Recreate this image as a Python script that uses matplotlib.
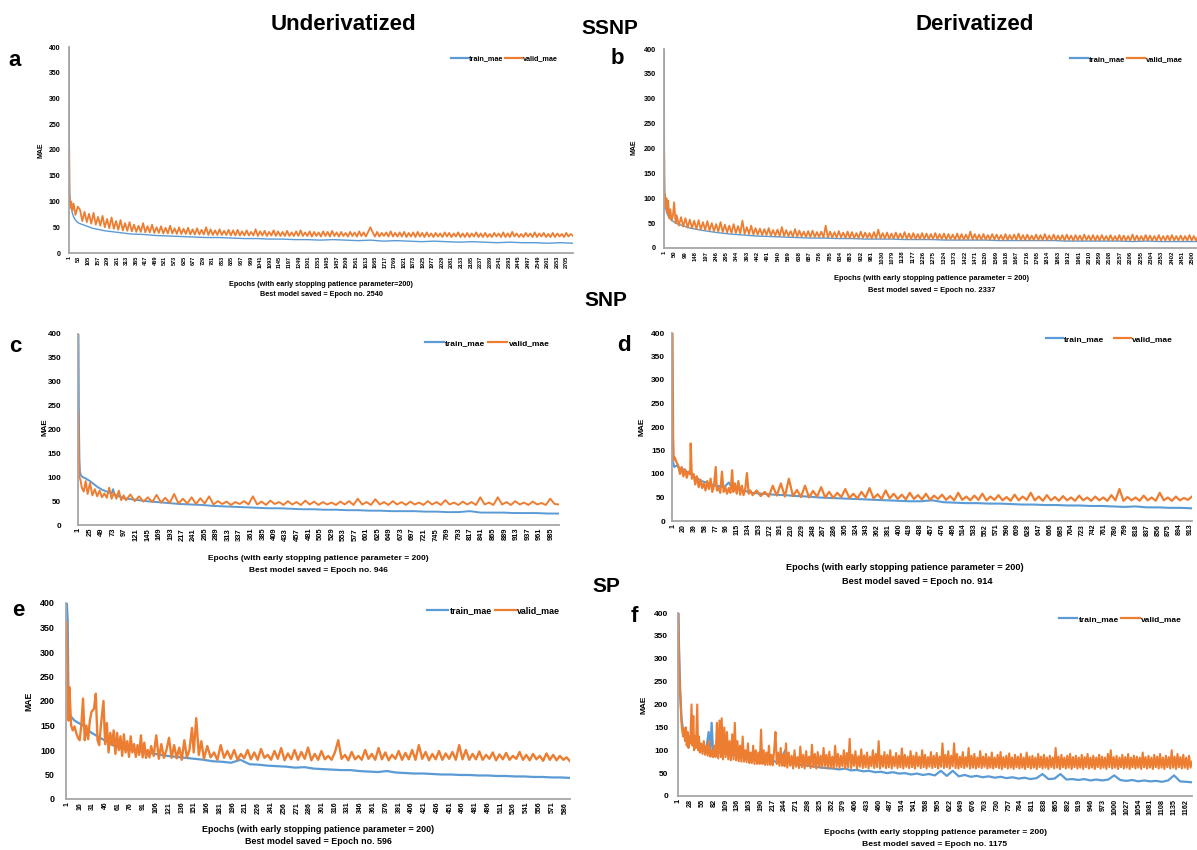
import numpy as np
import matplotlib
matplotlib.use('Agg')
import matplotlib.pyplot as plt
from matplotlib.lines import Line2D

plt.rcParams['font.family'] = ['Liberation Sans', 'DejaVu Sans']
plt.rcParams['font.weight'] = 'bold'

BLUE = '#5B9BD5'
ORANGE = '#ED7D31'
GREY = '#A6A6A6'

# ---------------- data: MAE per epoch ----------------
# a : SSNP, underivatized
a_n = 2740
a_head_ep = [1, 2, 3, 5, 8, 12, 18, 25, 35, 48]
a_train_head = [400, 175, 125, 110, 98, 88, 78, 70, 64, 59]
a_valid_head = [200, 135, 95, 104, 88, 100, 82, 96, 74, 90]
a_train_tail = [57, 48, 43, 40, 37, 36, 34, 33, 32, 31,
                30, 30, 29, 28, 28, 27, 27, 26, 26, 25,
                26, 25, 24, 25, 23, 24, 23, 22, 23, 22,
                21, 22, 21, 20, 21, 20, 20, 19, 20, 19]
a_valid_tail = [84, 62, 80, 60, 76, 57, 78, 55, 70, 53,
                72, 50, 66, 48, 69, 47, 62, 45, 64, 44,
                58, 43, 60, 42, 55, 41, 53, 41, 58, 40,
                52, 40, 55, 39, 50, 39, 52, 38, 49, 38,
                53, 38, 48, 37, 50, 37, 47, 37, 49, 36,
                46, 36, 48, 36, 45, 36, 50, 35, 46, 35,
                44, 35, 46, 35, 43, 35, 45, 34, 44, 34,
                45, 34, 42, 34, 44, 34, 41, 34, 46, 33,
                42, 34, 43, 33, 41, 34, 44, 33, 42, 33,
                41, 33, 43, 33, 40, 33, 42, 33, 44, 33,
                40, 33, 42, 32, 41, 33, 40, 32, 42, 33,
                41, 32, 43, 33, 40, 32, 41, 33, 39, 32,
                41, 33, 40, 32, 42, 33, 40, 32, 41, 50,
                40, 32, 41, 32, 39, 33, 40, 32, 42, 32,
                39, 32, 40, 32, 41, 31, 39, 32, 40, 31,
                41, 32, 39, 31, 40, 32, 38, 31, 39, 32,
                38, 31, 40, 32, 39, 31, 38, 32, 40, 31,
                38, 31, 39, 31, 38, 32, 40, 31, 38, 31,
                39, 31, 37, 31, 39, 32, 38, 31, 40, 31,
                38, 31, 41, 32, 38, 31, 37, 31, 39, 32,
                38, 31, 40, 31, 38, 32, 39, 31, 37, 31,
                39, 31, 38, 32, 37, 31, 39, 32, 37, 33]

# b : SSNP, derivatized
b_n = 2537
b_head_ep = [1, 2, 3, 5, 8, 12, 16, 20, 25, 30, 36, 42, 48, 55]
b_train_head = [400, 150, 110, 90, 80, 72, 68, 64, 60, 58, 56, 54, 52, 50]
b_valid_head = [190, 120, 80, 108, 85, 100, 70, 95, 60, 78, 55, 65, 92, 50]
b_train_tail = [49, 40, 35, 31, 28, 26, 24, 23, 22, 21,
                20, 20, 19, 19, 18, 18, 18, 17, 17, 17,
                16, 16, 16, 16, 15, 15, 15, 15, 15, 14,
                14, 14, 14, 14, 13, 14, 13, 13, 13, 13]
b_valid_tail = [66, 45, 62, 43, 60, 41, 57, 40, 55, 38,
                56, 37, 52, 36, 54, 35, 50, 34, 48, 33,
                52, 32, 47, 31, 45, 30, 48, 30, 44, 29,
                55, 28, 42, 28, 45, 27, 40, 27, 39, 26,
                38, 26, 40, 25, 36, 25, 37, 24, 42, 24,
                36, 24, 34, 23, 38, 23, 35, 23, 33, 22,
                34, 22, 35, 22, 32, 22, 33, 21, 45, 21,
                33, 21, 32, 21, 34, 21, 31, 20, 33, 20,
                32, 20, 30, 20, 33, 20, 31, 20, 30, 19,
                32, 19, 37, 19, 30, 19, 31, 19, 29, 19,
                31, 19, 29, 19, 32, 18, 29, 18, 30, 18,
                28, 18, 30, 18, 29, 18, 28, 18, 30, 18,
                28, 18, 29, 17, 28, 18, 27, 17, 29, 17,
                28, 17, 27, 17, 33, 17, 28, 17, 27, 17,
                28, 17, 26, 17, 28, 17, 27, 17, 26, 16,
                28, 16, 26, 17, 27, 16, 29, 16, 26, 16,
                27, 16, 25, 16, 27, 16, 26, 16, 28, 16,
                25, 16, 27, 16, 25, 16, 26, 15, 27, 16,
                25, 15, 26, 16, 25, 15, 27, 16, 25, 15,
                26, 15, 25, 15, 26, 16, 24, 15, 26, 15,
                24, 15, 26, 15, 25, 15, 24, 15, 27, 15,
                25, 15, 24, 15, 26, 15, 25, 15, 24, 15,
                26, 15, 24, 15, 25, 15, 26, 15, 24, 15,
                25, 15, 24, 15, 26, 15, 24, 15, 25, 16]

# c : SNP, underivatized
c_n = 1002
c_train_head_ep = [1, 2, 3, 4, 6, 10, 15, 20, 25, 30, 40, 50, 60, 70, 73, 76, 85]
c_train_head = [400, 210, 135, 112, 104, 100, 98, 95, 92, 88, 80, 74, 70, 66, 75, 64, 60]
c_train_tail = [56, 53, 50, 48, 46, 44, 43, 42, 40, 39,
                38, 37, 36, 35, 35, 34, 33, 33, 32, 32,
                31, 31, 30, 30, 29, 29, 29, 28, 28, 27,
                27, 29, 26, 26, 26, 25, 25, 25, 24, 24]
c_valid_head_ep = [1, 2, 3, 5, 8, 12, 16, 20, 25, 30, 35, 40, 45, 50, 55, 60, 65,
                   70, 75, 80, 85, 90, 95]
c_valid_head = [235, 150, 100, 95, 78, 70, 92, 65, 88, 62, 75, 60, 72, 58, 66, 57, 78,
                55, 68, 55, 72, 52, 62]
c_valid_tail = [52, 64, 50, 60, 49, 58, 48, 63, 47, 57,
                46, 65, 45, 55, 45, 58, 44, 56, 45, 60,
                43, 50, 44, 49, 42, 48, 44, 50, 43, 60,
                43, 49, 42, 51, 44, 48, 42, 50, 43, 48,
                42, 51, 43, 49, 42, 48, 43, 47, 42, 49,
                43, 50, 42, 55, 43, 48, 42, 54, 43, 48,
                42, 50, 43, 48, 42, 49, 43, 47, 42, 50,
                43, 48, 42, 52, 43, 47, 42, 49, 43, 48,
                42, 58, 43, 47, 42, 58, 43, 48, 42, 50,
                43, 47, 42, 49, 43, 46, 42, 55, 44, 43]

# d : SNP, derivatized
d_n = 916
d_train_head_ep = [1, 2, 4, 8, 14, 20, 26, 32, 38, 45, 52, 60, 68, 76, 84, 92, 100,
                   106, 115, 125, 135]
d_train_head = [165, 125, 115, 118, 112, 110, 105, 100, 95, 90, 85, 82, 78, 76, 74, 72, 82,
                70, 68, 65, 62]
d_train_tail = [60, 58, 56, 55, 53, 52, 50, 49, 48, 47,
                46, 45, 44, 43, 42, 42, 44, 40, 39, 38,
                38, 37, 37, 36, 35, 35, 34, 34, 33, 33,
                32, 32, 31, 30, 31, 29, 29, 28, 28, 27]
d_valid_head_ep = [1, 2, 3, 5, 8, 11, 14, 17, 20, 23, 26, 29, 32, 33, 35, 38, 41, 44,
                   47, 50, 53, 56, 59, 62, 65, 68, 71, 74, 77, 79, 82, 85, 88, 91, 94,
                   97, 100, 103, 106, 108, 111, 114, 117, 120, 123, 126, 129, 132, 135, 138]
d_valid_head = [400, 180, 130, 135, 125, 118, 100, 115, 95, 110, 92, 105, 100, 165, 90,
                100, 78, 95, 72, 88, 70, 80, 65, 85, 68, 90, 62, 75, 115, 65, 70, 60,
                105, 62, 72, 58, 70, 60, 108, 62, 80, 58, 85, 56, 75, 55, 68, 102, 58, 65]
d_valid_tail = [55, 65, 53, 62, 52, 75, 54, 80, 52, 90,
                53, 66, 51, 75, 50, 64, 52, 72, 50, 62,
                49, 60, 51, 68, 49, 58, 48, 62, 50, 70,
                48, 57, 47, 65, 48, 58, 47, 56, 46, 60,
                47, 55, 46, 58, 45, 54, 47, 56, 45, 53,
                44, 60, 45, 52, 44, 54, 45, 58, 44, 52,
                45, 55, 44, 51, 43, 56, 44, 52, 45, 60,
                44, 52, 43, 55, 44, 51, 43, 53, 44, 50,
                43, 54, 44, 50, 43, 52, 44, 50, 43, 55,
                44, 68, 43, 51, 44, 50, 43, 54, 44, 50,
                43, 60, 44, 50, 43, 52, 44, 49, 45, 52]

# e : SP, underivatized
e_n = 592
e_train_head_ep = [1, 2, 3, 5, 10, 15, 20, 25, 30, 35, 40, 45, 50, 55, 60]
e_train_head = [400, 365, 180, 170, 160, 155, 150, 142, 135, 130, 125, 120, 115, 110, 106]
e_train_tail = [103, 100, 97, 94, 91, 88, 86, 84, 82, 80,
                77, 76, 74, 80, 71, 70, 68, 67, 66, 64,
                65, 62, 61, 60, 59, 59, 57, 56, 55, 57,
                54, 53, 52, 52, 51, 50, 50, 49, 49, 48,
                48, 47, 47, 46, 46, 45, 45, 44, 44, 43]
e_valid_head_ep = [1, 2, 3, 4, 6, 8, 10, 12, 14, 16,
                   18, 20, 22, 24, 26, 28, 30, 32, 33, 35,
                   37, 39, 41, 44, 46, 48, 50, 52, 54, 56,
                   58, 60, 62, 64, 66, 68, 70, 72, 74, 76,
                   78, 80, 82, 84, 86, 88, 90, 92, 94, 96,
                   98, 100, 103, 106, 109, 112, 115, 118, 121, 124,
                   127, 130, 133, 136, 139, 142, 145, 148, 150, 153,
                   156, 159]
e_valid_head = [360, 250, 160, 228, 150, 140, 148, 135, 125, 120,
                150, 205, 120, 150, 122, 160, 178, 182, 185, 215,
                120, 110, 150, 200, 112, 155, 95, 135, 110, 140,
                92, 135, 100, 128, 88, 132, 95, 118, 86, 128,
                95, 112, 86, 110, 90, 130, 85, 115, 84, 100,
                85, 108, 88, 130, 82, 112, 84, 100, 125, 84,
                110, 83, 105, 80, 120, 85, 100, 145, 95, 165,
                90, 118]
e_valid_tail = [82, 108, 85, 95, 80, 110, 84, 98, 82, 100,
                80, 92, 83, 100, 81, 95, 80, 102, 84, 90,
                80, 98, 82, 104, 79, 93, 81, 100, 80, 96,
                82, 105, 79, 92, 80, 98, 81, 88, 80, 95,
                120, 82, 90, 79, 96, 81, 88, 80, 100, 82,
                92, 80, 104, 81, 95, 79, 90, 82, 98, 80,
                94, 81, 100, 80, 110, 82, 96, 79, 92, 81,
                98, 80, 93, 82, 96, 80, 110, 81, 100, 80,
                92, 81, 97, 80, 90, 82, 95, 79, 91, 81,
                94, 80, 88, 82, 96, 80, 90, 79, 92, 81,
                88, 78, 93, 80, 90, 79, 88, 80, 85, 77]

# f : SP, derivatized
f_n = 1176
f_train_head_ep = [1, 2, 3, 5, 8, 12, 16, 20, 25, 30, 35, 40, 45, 50, 55, 60, 65, 70,
                   74, 77, 80, 85, 90]
f_train_head = [400, 340, 300, 230, 170, 140, 135, 130, 125, 120, 115, 112, 110, 112, 108,
                105, 103, 140, 102, 160, 100, 98, 96]
f_train_tail = [95, 92, 90, 88, 85, 83, 81, 79, 77, 76,
                74, 100, 71, 69, 67, 66, 64, 62, 61, 60,
                58, 60, 56, 57, 54, 55, 52, 53, 50, 52,
                49, 50, 47, 49, 46, 48, 45, 55, 44, 55,
                43, 46, 42, 44, 41, 43, 40, 42, 39, 41,
                38, 40, 37, 39, 48, 37, 38, 48, 36, 37,
                35, 37, 34, 36, 34, 36, 45, 35, 33, 35,
                32, 34, 32, 33, 31, 34, 45, 32, 31, 30]
f_valid_head_ep = [1, 2, 3, 4, 6, 8, 10, 12, 14, 16,
                   18, 20, 22, 24, 26, 28, 31, 33, 35, 37,
                   39, 41, 44, 46, 48, 50, 53, 56, 59, 62,
                   65, 68, 71, 74, 77, 80, 83, 86, 89, 92,
                   95, 98, 100, 103, 106, 109, 112, 115, 118, 121,
                   124, 127, 130, 133, 136, 139, 142, 145, 148, 151,
                   154, 157, 160, 163, 166, 169, 172, 175, 178, 181,
                   184, 187, 190, 193, 196, 199, 202, 205, 208, 211,
                   214, 217, 220, 223, 226, 229, 232, 235, 238, 241,
                   244, 247]
f_valid_head = [400, 330, 280, 250, 200, 160, 140, 130, 148, 120,
                150, 110, 140, 105, 130, 115, 200, 110, 175, 100,
                130, 105, 200, 100, 130, 95, 115, 92, 120, 90,
                110, 88, 120, 86, 100, 85, 110, 85, 160, 82,
                165, 85, 170, 80, 150, 85, 140, 80, 120, 78,
                135, 80, 160, 78, 120, 76, 110, 75, 130, 75,
                100, 74, 115, 72, 95, 72, 110, 70, 100, 70,
                95, 70, 145, 70, 100, 68, 95, 68, 110, 68,
                90, 67, 100, 140, 70, 95, 66, 105, 66, 90,
                65, 115]
f_valid_tail = [62, 95, 66, 88, 60, 100, 64, 85, 61, 108,
                63, 90, 60, 98, 65, 86, 61, 112, 63, 92,
                60, 96, 64, 88, 61, 105, 66, 90, 60, 97,
                63, 86, 60, 110, 64, 92, 61, 88, 65, 100,
                60, 94, 63, 125, 61, 90, 66, 98, 60, 87,
                64, 102, 61, 89, 63, 95, 60, 86, 65, 100,
                61, 92, 63, 120, 60, 88, 64, 96, 61, 90,
                63, 100, 60, 86, 65, 94, 61, 88, 63, 104,
                60, 90, 64, 86, 61, 98, 63, 88, 60, 95,
                65, 86, 61, 100, 63, 90, 60, 85, 64, 96,
                61, 88, 63, 94, 60, 86, 64, 115, 61, 90,
                63, 98, 60, 88, 65, 115, 61, 92, 60, 86,
                63, 96, 61, 85, 64, 105, 60, 88, 62, 92,
                60, 84, 63, 98, 61, 86, 64, 92, 60, 85,
                62, 95, 60, 84, 63, 90, 61, 96, 59, 85,
                63, 88, 60, 93, 62, 84, 59, 90, 63, 86,
                60, 92, 62, 84, 59, 95, 63, 86, 60, 88,
                62, 84, 59, 92, 63, 86, 60, 90, 62, 84,
                59, 88, 63, 84, 60, 105, 62, 86, 59, 90,
                63, 84, 60, 88, 62, 92, 59, 85, 63, 88,
                60, 84, 62, 90, 59, 85, 63, 92, 60, 84,
                62, 88, 59, 84, 63, 90, 60, 86, 62, 84,
                59, 92, 63, 100, 60, 85, 62, 88, 59, 84,
                63, 90, 60, 85, 62, 92, 59, 84, 63, 88,
                60, 86, 62, 84, 59, 95, 63, 85, 60, 88,
                62, 84, 59, 90, 63, 86, 60, 92, 62, 84,
                59, 88, 63, 85, 60, 100, 62, 86, 59, 92,
                63, 85, 60, 90, 62, 84, 59, 88, 62, 75]

# tick label steps (Excel category labels) and texts
steps = {'a': (52, 2705), 'b': (49, 2500), 'c': (24, 985), 'd': (19, 913),
         'e': (15, 586), 'f': (27, 1162)}
best = {'a': 2540, 'b': 2337, 'c': 946, 'd': 914, 'e': 596, 'f': 1175}


def with_tail(head_ep, start, stop, tail):
    # epochs of the sampled tail points, evenly spread from start to stop
    return list(head_ep) + list(np.linspace(start, stop, len(tail)))


# ---------------- figure ----------------
W, H = 1197, 850
fig = plt.figure(figsize=(W / 100, H / 100), dpi=100)


def txt(x, y, s, size, **kw):
    fig.text(x / W, 1 - y / H, s, fontsize=size, fontweight='bold',
             ha=kw.pop('ha', 'center'), va=kw.pop('va', 'center'), **kw)


def panel(key, box, xmax, tr_ep, tr, va_ep, va, lw, fy, fx, ypad, leg, xl, bm, mae):
    l, r, t, b = box
    ax = fig.add_axes([l / W, 1 - b / H, (r - l) / W, (b - t) / H])
    ax.plot(tr_ep, tr, color=BLUE, lw=lw[0])
    ax.plot(va_ep, va, color=ORANGE, lw=lw[1])
    ax.set_xlim(0, xmax)
    ax.set_ylim(0, 400)
    ax.set_yticks(np.arange(0, 401, 50))
    step, last = steps[key]
    ticks = np.arange(1, last + 1, step)
    ax.set_xticks(ticks)
    ax.set_xticklabels([str(t) for t in ticks], rotation=90, fontsize=fx)
    ax.tick_params(axis='x', length=0, pad=2)
    ax.tick_params(axis='y', length=0, pad=ypad, labelsize=fy)
    for s in ['top', 'right']:
        ax.spines[s].set_visible(False)
    for s in ['left', 'bottom']:
        ax.spines[s].set_color(GREY)
        ax.spines[s].set_linewidth(1.3)
    lx, ly, lfs, hl, cs = leg
    handles = [Line2D([], [], color=BLUE, lw=1.6), Line2D([], [], color=ORANGE, lw=1.6)]
    ax.legend(handles, ['train_mae', 'valid_mae'], ncol=2, loc='center left',
              bbox_to_anchor=(lx / W, 1 - ly / H), bbox_transform=fig.transFigure,
              frameon=False, fontsize=lfs, handlelength=hl, handletextpad=0.15,
              columnspacing=cs, borderpad=0, borderaxespad=0)
    txt(xl[0], xl[1], xl[2], xl[3])
    txt(bm[0], bm[1], 'Best model saved = Epoch no. %d' % best[key], bm[2])
    txt(mae[0], mae[1], 'MAE', mae[2], rotation=90)
    return ax


ep_txt = 'Epochs (with early stopping patience parameter = 200)'

panel('a', (69, 573, 47, 253), a_n,
      with_tail(a_head_ep, 60, a_n, a_train_tail), a_train_head + a_train_tail,
      with_tail(a_head_ep, 60, a_n, a_valid_tail), a_valid_head + a_valid_tail,
      (1.0, 1.3), 5.0, 4.0, 6, (451, 59, 5.2, 2.3, 0.3),
      (321, 284, 'Epochs (with early stopping patience parameter=200)', 5.2),
      (321, 295, 5.2), (41, 150, 5.0))

panel('b', (664, 1200, 49, 248), 2535,
      with_tail(b_head_ep, 60, b_n, b_train_tail), b_train_head + b_train_tail,
      with_tail(b_head_ep, 60, b_n, b_valid_tail), b_valid_head + b_valid_tail,
      (1.0, 1.3), 5.2, 4.2, 6, (1070, 59, 5.5, 2.3, 0.3),
      (932, 279, ep_txt, 5.4), (932, 290, 5.4), (634, 147, 5.0))

panel('c', (78, 559, 334, 525), c_n,
      with_tail(c_train_head_ep, 95, c_n, c_train_tail), c_train_head + c_train_tail,
      with_tail(c_valid_head_ep, 100, c_n, c_valid_tail), c_valid_head + c_valid_tail,
      (1.4, 1.4), 5.8, 5.4, 12, (425, 343, 6.0, 2.3, 0.3),
      (318, 558, ep_txt, 6.0), (318, 571, 6.0), (45, 427, 5.8))

panel('d', (672, 1192, 333, 521), d_n,
      with_tail(d_train_head_ep, 140, d_n, d_train_tail), d_train_head + d_train_tail,
      with_tail(d_valid_head_ep, 142, d_n, d_valid_tail), d_valid_head + d_valid_tail,
      (1.5, 1.6), 6.0, 5.0, 5, (1046, 339, 6.0, 2.0, 1.2),
      (905, 568, ep_txt, 6.6), (917, 582, 6.6), (642, 427, 6.0))

panel('e', (66, 570, 603, 799), e_n,
      with_tail(e_train_head_ep, 65, e_n, e_train_tail), e_train_head + e_train_tail,
      with_tail(e_valid_head_ep, 162, e_n, e_valid_tail), e_valid_head + e_valid_tail,
      (1.6, 1.7), 6.4, 5.0, 8, (427, 611, 6.4, 2.4, 0.3),
      (318, 829, ep_txt, 6.4), (318, 841, 6.4), (29, 701, 6.2))

panel('f', (678, 1192, 613, 796), f_n,
      with_tail(f_train_head_ep, 95, f_n, f_train_tail), f_train_head + f_train_tail,
      with_tail(f_valid_head_ep, 250, f_n, f_valid_tail), f_valid_head + f_valid_tail,
      (1.6, 1.5), 6.0, 5.2, 7, (1059, 619, 6.0, 2.2, 0.3),
      (935, 832, ep_txt, 6.1), (935, 844, 6.1), (644, 705, 6.0))

# column / row headings and panel letters
txt(343, 24, 'Underivatized', 16)
txt(975, 24, 'Derivatized', 16)
txt(610, 28, 'SSNP', 15)
txt(606, 300, 'SNP', 15)
txt(606, 587, 'SP', 15)
for s, x, y in [('a', 15, 60), ('b', 617, 59), ('c', 15, 347),
                ('d', 624, 346), ('e', 18, 610), ('f', 634, 617)]:
    txt(x, y, s, 16)

fig.savefig('out.png', dpi=100)
